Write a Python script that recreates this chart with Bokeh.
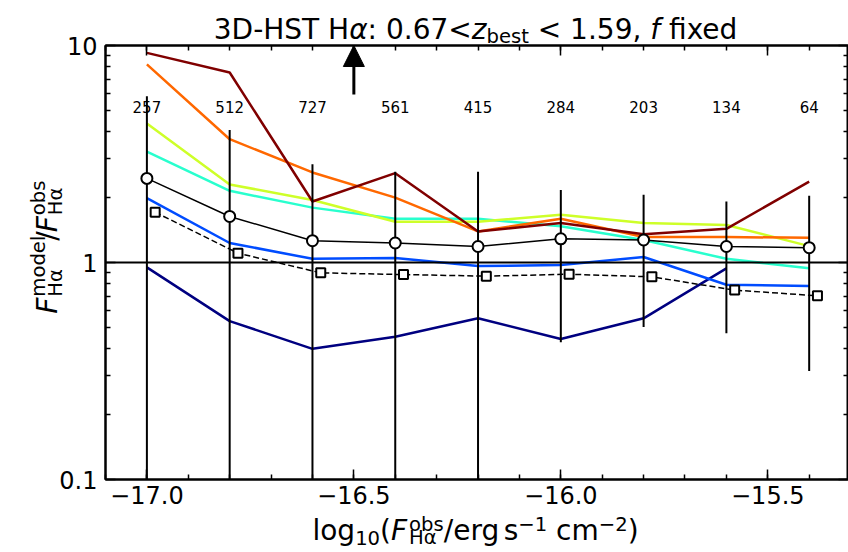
import math
from bokeh.plotting import figure
from bokeh.layouts import column, row
from bokeh.models import (Span, Arrow, NormalHead, LinearAxis, LogAxis,
                          FixedTicker, CustomJSTickFormatter)
from bokeh.embed import file_html
from bokeh.resources import INLINE
from bokeh.core.properties import value

FONT = "DejaVu Sans"

# ---------------- data ----------------
x_bins = [-17.0, -16.8, -16.6, -16.4, -16.2, -16.0, -15.8, -15.6, -15.4]
counts = [257, 512, 727, 561, 415, 284, 203, 134, 64]

median_ratio = [2.44, 1.63, 1.26, 1.23, 1.185, 1.286, 1.27, 1.185, 1.17]
err_hi = [5.84, 4.08, 2.84, 2.62, 2.62, 2.16, 2.05, 1.91, 2.03]
err_lo = [0.05, 0.05, 0.05, 0.05, 0.05, 0.429, 0.504, 0.472, 0.316]

square_x = [-16.98, -16.78, -16.58, -16.38, -16.18, -15.98, -15.78, -15.58, -15.38]
square_ratio = [1.705, 1.104, 0.896, 0.880, 0.865, 0.883, 0.859, 0.746, 0.702]

series_darkred = [9.25, 7.51, 1.91, 2.58, 1.39, 1.52, 1.35, 1.43, 2.36]
series_orange = [8.18, 3.70, 2.60, 1.99, 1.39, 1.59, 1.31, 1.31, 1.30]
series_yellow = [4.37, 2.29, 1.94, 1.54, 1.54, 1.66, 1.52, 1.49, 1.19]
series_cyan = [3.24, 2.14, 1.79, 1.59, 1.59, 1.47, 1.27, 1.04, 0.94]
series_blue = [1.98, 1.23, 1.04, 1.05, 0.963, 0.974, 1.06, 0.79, 0.78]
series_navy = [0.95, 0.537, 0.40, 0.455, 0.553, 0.444, 0.553, 0.94]

colors = {
    "navy": "#000080", "blue": "#004cff", "cyan": "#29ffce",
    "yellow": "#ceff29", "orange": "#ff6800", "darkred": "#800000",
}

x_major = [-17.0, -16.5, -16.0, -15.5]
x_minor = [round(-17.1 + 0.1 * i, 1) for i in range(19)]
y_major = [0.1, 1, 10]
y_minor = [0.2, 0.3, 0.4, 0.5, 0.6, 0.7, 0.8, 0.9, 2, 3, 4, 5, 6, 7, 8, 9]

count_label_y = 5.2
arrow_x = -16.5
arrow_y0, arrow_y1 = 5.95, 10.0

# ---------------- layout sizes (page pixels) ----------------
PAGE_W, PAGE_H = 848, 552
MAIN_X0, MAIN_Y0, MAIN_Y1 = 56, 30, 515   # page extent of the main canvas
TITLE_H = 48                               # title panel: y 0..48
YLAB_W = 72                                # y-label panel: x 0..72
XLAB_Y0 = 508                              # x-label panel: y 508..552
MAIN_W = PAGE_W - MAIN_X0
MAIN_H = MAIN_Y1 - MAIN_Y0

# ---------------- main figure ----------------
p = figure(width=MAIN_W, height=MAIN_H, x_range=(-17.1, -15.305), y_range=(0.1, 10),
           y_axis_type="log", output_backend="svg", toolbar_location=None,
           min_border_left=47, min_border_right=0, min_border_top=15,
           min_border_bottom=36)
p.margin = (MAIN_Y0 - TITLE_H, 0, XLAB_Y0 - MAIN_Y1, MAIN_X0 - YLAB_W)
p.xgrid.visible = False
p.ygrid.visible = False
p.outline_line_color = "black"
p.outline_line_width = 2
p.background_fill_color = "white"
p.border_fill_color = None


def style_axis(ax, labels=True):
    ax.axis_line_width = 2
    ax.axis_line_color = "black"
    ax.major_tick_in = 10
    ax.major_tick_out = 0
    ax.minor_tick_in = 5
    ax.minor_tick_out = 0
    ax.major_tick_line_width = 1.5
    ax.minor_tick_line_width = 1.5
    ax.major_tick_line_color = "black"
    ax.minor_tick_line_color = "black"
    if labels:
        ax.major_label_text_font = FONT
        ax.major_label_text_font_size = "24px"
        ax.major_label_text_color = "black"
    else:
        ax.major_label_text_font_size = "1px"
        ax.major_label_standoff = 0


xfmt = CustomJSTickFormatter(code="return (tick < 0 ? '\\u2212' : '') + Math.abs(tick).toFixed(1);")
yfmt = CustomJSTickFormatter(code="return tick >= 1 ? tick.toFixed(0) : tick.toFixed(1);")
blank = CustomJSTickFormatter(code="return '';")

xa = p.xaxis[0]
xa.ticker = FixedTicker(ticks=x_major, minor_ticks=x_minor)
xa.formatter = xfmt
style_axis(xa)
xa.major_label_standoff = 6

ya = p.yaxis[0]
ya.ticker = FixedTicker(ticks=y_major, minor_ticks=y_minor)
ya.formatter = yfmt
style_axis(ya)
ya.major_label_standoff = 8

top = LinearAxis(ticker=FixedTicker(ticks=x_major, minor_ticks=x_minor), formatter=blank)
style_axis(top, labels=False)
p.add_layout(top, "above")
right = LogAxis(ticker=FixedTicker(ticks=y_major, minor_ticks=y_minor), formatter=blank)
style_axis(right, labels=False)
p.add_layout(right, "right")

for key, ys in [("navy", series_navy), ("blue", series_blue), ("cyan", series_cyan),
                ("yellow", series_yellow), ("orange", series_orange), ("darkred", series_darkred)]:
    p.line(x_bins[:len(ys)], ys, line_color=colors[key], line_width=2.5)

p.segment(x0=x_bins, y0=err_lo, x1=x_bins, y1=err_hi, line_color="black", line_width=2)
p.line(x_bins, median_ratio, line_color="black", line_width=1.5)
p.scatter(x_bins, median_ratio, marker="circle", size=11, fill_color="white",
          line_color="black", line_width=2)
p.line(square_x, square_ratio, line_color="black", line_width=1.5, line_dash="6 3")
p.scatter(square_x, square_ratio, marker="square", size=9, fill_color="white",
          line_color="black", line_width=2)

p.text(x=x_bins, y=[count_label_y] * len(x_bins), text=[str(c) for c in counts],
       text_font=value(FONT), text_font_size=value("15px"), text_align="center",
       text_baseline="alphabetic", text_color="black")

p.add_layout(Span(location=1, dimension="width", line_color="black", line_width=2))
p.add_layout(Arrow(end=NormalHead(size=21, fill_color="black", line_color="black"),
                   x_start=arrow_x, y_start=arrow_y0, x_end=arrow_x, y_end=arrow_y1,
                   line_width=3, line_color="black"))


# ---------------- text panels (page-pixel coordinates, y = -page_y) ----------------
def text_panel(x0, x1, y0, y1):
    f = figure(width=x1 - x0, height=y1 - y0, x_range=(x0, x1), y_range=(-y1, -y0),
               output_backend="svg", toolbar_location=None,
               x_axis_location=None, y_axis_location=None,
               min_border=0, min_border_left=0, min_border_right=0,
               min_border_top=0, min_border_bottom=0)
    f.xgrid.visible = False
    f.ygrid.visible = False
    f.outline_line_color = None
    f.background_fill_color = None
    f.border_fill_color = None
    return f


W = {' ': 0.318, '-': 0.361, '.': 0.318, ',': 0.318, ':': 0.337, '<': 0.838,
     '(': 0.390, ')': 0.390, '/': 0.337, '\u2212': 0.838,
     'D': 0.770, 'H': 0.752, 'S': 0.635, 'T': 0.611, 'F': 0.575,
     'a': 0.613, 'b': 0.635, 'c': 0.550, 'd': 0.635, 'e': 0.615, 'f': 0.352,
     'g': 0.635, 'i': 0.278, 'l': 0.278, 'm': 0.974, 'o': 0.612, 'r': 0.411,
     's': 0.521, 't': 0.392, 'x': 0.592, 'z': 0.525, '\u03b1': 0.659}
for d in "0123456789":
    W[d] = 0.636

BASE, SCRIPT = 28, 19.6
BL_FIX = 0.31          # rendered baseline sits this many ems below the given y
SP = 0.318 * BASE      # word space


def tw(s, size):
    return sum(W.get(ch, 0.6) for ch in s) * size


def seg_items(text, kind, sup, sub):
    if kind == "stack":
        a, b = text
        return [(a, SCRIPT, "normal", -sup), (b, SCRIPT, "normal", sub)], max(tw(a, SCRIPT), tw(b, SCRIPT))
    if kind == "sup":
        return [(text, SCRIPT, "normal", -sup)], tw(text, SCRIPT)
    if kind == "sub":
        return [(text, SCRIPT, "normal", sub)], tw(text, SCRIPT)
    if kind == "gap":
        return [], text
    style = "italic" if kind == "i" else "normal"
    return [(text, BASE, style, 0)], tw(text, BASE)


def rich(f, segments, center, baseline, vertical=False, sup=9.0, sub=4.5):
    total = sum(seg_items(t, k, sup, sub)[1] for t, k in segments)
    pos = center + total / 2 if vertical else center - total / 2
    for t, k in segments:
        items, adv = seg_items(t, k, sup, sub)
        for txt, size, style, off in items:
            fix = BL_FIX * size
            if vertical:
                px, py, ang = baseline + off - fix, pos, math.pi / 2
            else:
                px, py, ang = pos, baseline + off - fix, 0
            f.text(x=[px], y=[-py], text=[txt], angle=ang, text_font=value(FONT),
                   text_font_size=value(f"{size}px"), text_font_style=style,
                   text_align="left", text_baseline="alphabetic", text_color="black")
        pos = pos - adv if vertical else pos + adv


title_segs = [("3D-HST H", "n"), ("\u03b1", "i"), (": 0.67<", "n"), ("z", "i"),
              ("best", "sub"), (SP, "gap"), ("< 1.59,", "n"), (SP, "gap"), ("f", "i"),
              (SP, "gap"), ("fixed", "n")]
xlabel_segs = [("log", "n"), ("10", "sub"), ("(", "n"), ("F", "i"), (2, "gap"),
               (("obs", "H\u03b1"), "stack"), ("/erg", "n"), (4, "gap"), ("s", "n"),
               ("\u22121", "sup"), (SP, "gap"), ("cm", "n"), ("\u22122", "sup"), (")", "n")]
ylabel_segs = [("F", "i"), (3, "gap"), (("model", "H\u03b1"), "stack"), (2, "gap"),
               ("/", "n"), ("F", "i"), (3, "gap"), (("obs", "H\u03b1"), "stack")]

title_fig = text_panel(0, PAGE_W, 0, TITLE_H)
rich(title_fig, title_segs, center=475.5, baseline=37.3)

ylab_fig = text_panel(0, YLAB_W, TITLE_H, XLAB_Y0)
rich(ylab_fig, ylabel_segs, center=256.7, baseline=56.0, vertical=True, sup=12.0, sub=5.0)

xlab_fig = text_panel(0, PAGE_W, XLAB_Y0, PAGE_H)
rich(xlab_fig, xlabel_segs, center=475.0, baseline=539.0)

layout = column(title_fig, row(ylab_fig, p, spacing=0), xlab_fig, spacing=0)

open("out.html", "w").write(file_html(layout, INLINE))
